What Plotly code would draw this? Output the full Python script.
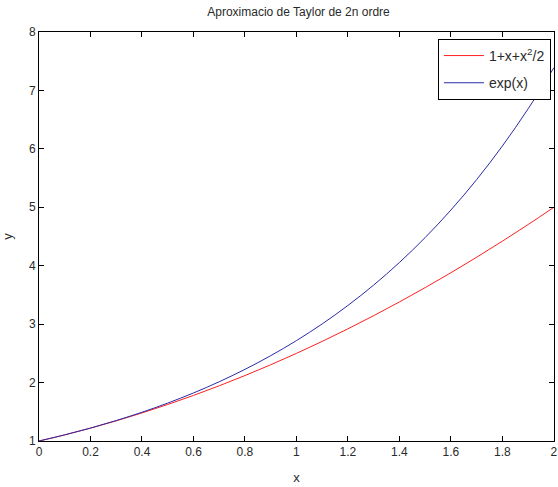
import plotly.graph_objects as go

# Sample points along x
x_vals = [0.0, 0.1, 0.2, 0.3, 0.4, 0.5, 0.6, 0.7, 0.8, 0.9, 1.0,
          1.1, 1.2, 1.3, 1.4, 1.5, 1.6, 1.7, 1.8, 1.9, 2.0]

# Second-order Taylor polynomial values
taylor_vals = [1.000, 1.105, 1.220, 1.345, 1.480, 1.625, 1.780, 1.945, 2.120, 2.305, 2.500,
               2.705, 2.920, 3.145, 3.380, 3.625, 3.880, 4.145, 4.420, 4.705, 5.000]

# Exponential values
exp_vals = [1.000, 1.105, 1.221, 1.350, 1.492, 1.649, 1.822, 2.014, 2.226, 2.460, 2.718,
            3.004, 3.320, 3.669, 4.055, 4.482, 4.953, 5.474, 6.050, 6.686, 7.389]

x_ticks = [0, 0.2, 0.4, 0.6, 0.8, 1, 1.2, 1.4, 1.6, 1.8, 2]
y_ticks = [1, 2, 3, 4, 5, 6, 7, 8]

FONT = "Liberation Sans, Arial, sans-serif"
TXT = "#2a2a2a"

fig = go.Figure()
fig.add_trace(go.Scatter(x=x_vals, y=taylor_vals, mode="lines", line=dict(color="#ff2020", width=1),
                         name="1+x+x<sup>2</sup>/2", line_shape="spline", legendgroup="a"))
fig.add_trace(go.Scatter(x=x_vals, y=exp_vals, mode="lines", line=dict(color="#2a2aa8", width=1),
                         name="exp(x)", line_shape="spline", legendgroup="b"))

axis_common = dict(showline=True, linecolor="black", linewidth=1, mirror="ticks",
                   ticks="inside", ticklen=5, tickcolor="black", showgrid=False, zeroline=False,
                   tickfont=dict(family=FONT, size=12, color=TXT))

fig.update_layout(
    width=558, height=487,
    margin=dict(l=39, r=0, t=32, b=46),
    paper_bgcolor="white", plot_bgcolor="white",
    title=dict(text="Aproximacio de Taylor de 2n ordre", x=0.535, xanchor="center",
               y=0.975, yanchor="middle", font=dict(family=FONT, size=12, color=TXT)),
    xaxis=dict(range=[0, 2.0004], tickvals=x_ticks, ticktext=[f"{v:g}" for v in x_ticks],
               ticklabeloverflow="allow",
               title=dict(text="x", font=dict(family=FONT, size=13, color=TXT), standoff=14),
               **axis_common),
    yaxis=dict(range=[1, 8], tickvals=y_ticks,
               title=dict(text="y", font=dict(family=FONT, size=13, color=TXT), standoff=16),
               **axis_common),
    legend=dict(x=0.994, y=0.983, xanchor="right", yanchor="top", bordercolor="black", borderwidth=1,
                bgcolor="white", font=dict(family=FONT, size=14, color=TXT),
                tracegroupgap=6, itemwidth=40),
    showlegend=True,
)

fig.write_html("out.html")
